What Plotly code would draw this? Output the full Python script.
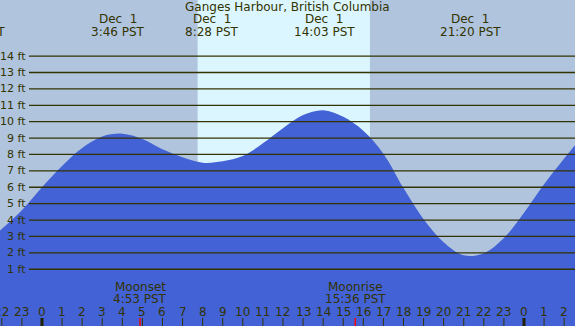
import plotly.graph_objects as go

# ---- data (tide height in ft at each hour) ----
tide_hours = [-2.15, -1, 0, 1, 2, 3, 4, 5, 6, 7, 8, 9, 10, 11, 12, 13, 14, 15, 16, 17, 18,
              19, 20, 21, 22, 23, 24, 25, 26, 26.6]
tide_ft = [3.3, 4.6, 6.0, 7.3, 8.4, 9.1, 9.27, 8.95, 8.32, 7.83, 7.5, 7.58, 7.9, 8.68, 9.6,
           10.4, 10.7, 10.3, 9.45, 8.05, 5.95, 4.05, 2.65, 1.85, 1.97, 2.9, 4.45, 6.18, 7.75, 8.65]

event_hours = [3.767, 8.467, 14.05, 21.333]
event_dates = ["Dec \u00a01", "Dec \u00a01", "Dec \u00a01", "Dec \u00a01"]
event_times = ["3:46 PST", "8:28 PST", "14:03 PST", "21:20 PST"]

prev_event_text = "20:40 PST"

sunrise_h = 7.75
sunset_h = 16.33

moon_hours = [4.883, 15.6]
moon_names = ["Moonset", "Moonrise"]
moon_times = ["4:53 PST", "15:36 PST"]

hour_ticks = list(range(-2, 27))
hour_labels = [str(h % 24) for h in hour_ticks]
midnights = [0, 24]

ft_levels = list(range(1, 15))
ft_labels = [f"{v} ft" for v in ft_levels]

title = "Ganges Harbour, British Columbia"

# ---- styling ----
W, H = 575, 326
NIGHT = "#b0c4de"
DAY = "#dcf6ff"
WATER = "#4262d6"
INK = "#333300"
FONT = "DejaVu Sans"

XR = [-2.09, 26.54]
YR = [-2.46, 17.42]


def py(pix):
    """pixel row (from top) -> paper y"""
    return 1 - pix / H


fig = go.Figure()
fig.add_trace(go.Scatter(x=tide_hours, y=[YR[0] - 1] * len(tide_hours), mode="lines",
                         line=dict(width=0), hoverinfo="skip", showlegend=False))
fig.add_trace(go.Scatter(x=tide_hours, y=tide_ft, mode="lines",
                         line=dict(width=0, shape="spline", smoothing=1.0),
                         fill="tonexty", fillcolor=WATER, hoverinfo="skip", showlegend=False))

shapes = []
shapes.append(dict(type="rect", xref="x", yref="paper", x0=sunrise_h, x1=sunset_h, y0=0, y1=1,
                   fillcolor=DAY, line=dict(width=0), layer="below"))
for v in ft_levels:
    shapes.append(dict(type="line", xref="paper", yref="y", x0=29 / W, x1=1, y0=v, y1=v,
                       line=dict(color=INK, width=1.3), layer="above"))
for h in hour_ticks:
    thick = h in midnights
    shapes.append(dict(type="line", xref="x", yref="paper", x0=h, x1=h, y0=0, y1=py(318),
                       line=dict(color="#222200" if thick else INK, width=3 if thick else 1)))
for h in moon_hours:
    shapes.append(dict(type="line", xref="x", yref="paper", x0=h, x1=h, y0=0, y1=py(318),
                       line=dict(color="#ff0000", width=1.5)))

ann = []
ann.append(dict(text=title, x=0.5, xref="paper", y=py(7.5), yref="paper", showarrow=False,
                font=dict(size=12, color=INK, family=FONT), yanchor="middle"))
for h, d, t in zip(event_hours, event_dates, event_times):
    ann.append(dict(text=d, x=h, xref="x", y=py(19.5), yref="paper", showarrow=False,
                    font=dict(size=12, color=INK, family=FONT), yanchor="middle"))
    ann.append(dict(text=t, x=h, xref="x", y=py(31.5), yref="paper", showarrow=False,
                    font=dict(size=12, color=INK, family=FONT), yanchor="middle"))
ann.append(dict(text=prev_event_text, x=6.5 / W, xref="paper", xanchor="right", y=py(31.5), yref="paper",
                showarrow=False, font=dict(size=12, color=INK, family=FONT), yanchor="middle"))
for v, lab in zip(ft_levels, ft_labels):
    ann.append(dict(text=lab, x=28 / W, xref="paper", xanchor="right", y=v, yref="y", showarrow=False,
                    font=dict(size=11, color=INK, family=FONT), yanchor="middle"))
for h, lab in zip(hour_ticks, hour_labels):
    ann.append(dict(text=lab, x=h, xref="x", y=py(311.5), yref="paper", showarrow=False,
                    font=dict(size=12, color=INK, family=FONT), yanchor="middle"))
for h, n, t in zip(moon_hours, moon_names, moon_times):
    ann.append(dict(text=n, x=h, xref="x", y=py(287), yref="paper", showarrow=False,
                    font=dict(size=12, color=INK, family=FONT), yanchor="middle"))
    ann.append(dict(text=t, x=h, xref="x", y=py(299), yref="paper", showarrow=False,
                    font=dict(size=12, color=INK, family=FONT), yanchor="middle"))

fig.update_layout(
    width=W, height=H, margin=dict(l=0, r=0, t=0, b=0),
    paper_bgcolor=NIGHT, plot_bgcolor=NIGHT,
    xaxis=dict(range=XR, visible=False, fixedrange=True),
    yaxis=dict(range=YR, visible=False, fixedrange=True),
    shapes=shapes, annotations=ann, showlegend=False,
)
fig.write_html("out.html", config={"displayModeBar": False},
               post_script="document.body.style.margin='0';document.body.style.overflow='hidden';")
